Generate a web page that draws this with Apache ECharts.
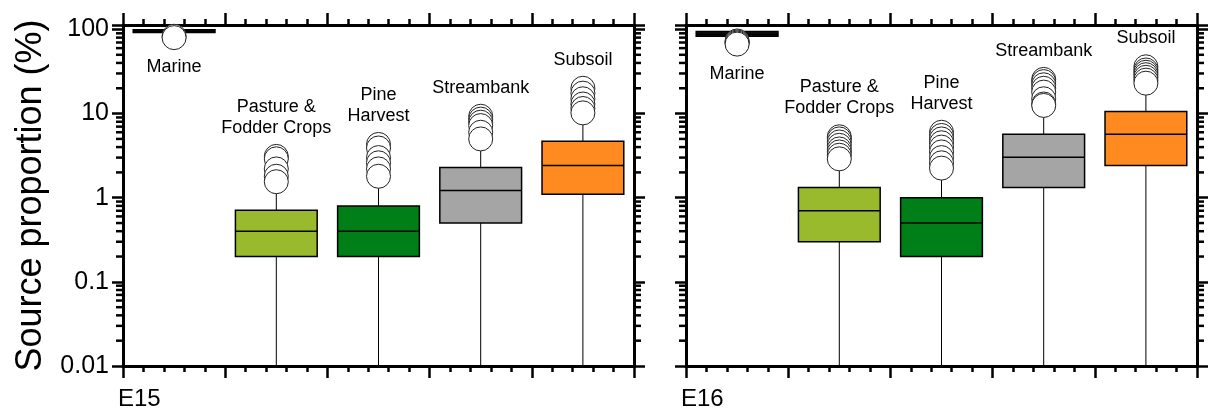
<!DOCTYPE html>
<html>
<head>
<meta charset="utf-8">
<script src="https://cdn.jsdelivr.net/npm/echarts@6/dist/echarts.min.js"></script>
<style>
  html, body { margin: 0; padding: 0; background: #fff; }
  #chart { width: 1208px; height: 410px; }
</style>
</head>
<body>
<div id="chart"></div>
<script>
// Sediment source groups and their slot on the x axis
const categories = ['Marine', 'Pasture &\nFodder Crops', 'Pine\nHarvest', 'Streambank', 'Subsoil'];
const categoryPositions = [0.5, 1.5, 2.5, 3.5, 4.5];
const panelNames = ['E15', 'E16'];
const yTickLabels = ['0.01', '0.1', '1', '10', '100'];

// Box statistics per source: [min, Q1, median, Q3, max] in %
const e15Stats = [
  [90, 92, 95, 99, 100],
  [0.01, 0.20, 0.40, 0.71, 1.5],
  [0.01, 0.20, 0.40, 0.80, 1.7],
  [0.01, 0.50, 1.22, 2.28, 4.8],
  [0.01, 1.10, 2.41, 4.7, 10]
];
const e15Outliers = [
  [83, 80],
  [3.1, 2.9, 2.2, 1.8, 1.55],
  [4.3, 3.9, 3.0, 2.6, 2.2, 1.8],
  [9.3, 8.6, 7.9, 7.2, 6.0, 5.0],
  [20, 17.5, 15, 13, 11.5, 10.2]
];
const e16Stats = [
  [80, 83, 88, 94.5, 96],
  [0.01, 0.30, 0.70, 1.32, 2.7],
  [0.01, 0.20, 0.50, 1.0, 2.2],
  [0.01, 1.32, 3.03, 5.7, 12.5],
  [0.01, 2.41, 5.7, 10.6, 22.5]
];
const e16Outliers = [
  [73, 71, 69, 67],
  [5.3, 5.0, 4.6, 4.2, 3.8, 3.5, 3.2, 2.9],
  [6.0, 5.5, 5.0, 4.5, 4.0, 3.5, 3.0, 2.6, 2.25],
  [25.5, 24, 22, 20, 18, 15, 13, 12.5],
  [36, 33, 31, 29, 27, 25, 23]
];

const sourceColors = ['#111111', '#99BA2C', '#007E17', '#A5A5A5', '#FF8A1F'];

const FONT = '"Liberation Sans", Arial, Helvetica, sans-serif';
const Y_MIN = 0.01, Y_MAX = 113;
const BOX_HALF = 0.4;       // half box width in x-axis units
const OUT_R = 12;           // outlier circle radius (px)
const MINOR_LEN = 7;
const AXIS_W = 3;

// log minor ticks at 2..9 within each decade of the axis range
const minorTickValues = [];
for (let e = -2; e <= 1; e++) {
  for (let m = 2; m <= 9; m++) minorTickValues.push(m * Math.pow(10, e));
}

function boxRows(stats, outliers) {
  return stats.map((s, i) => [
    categoryPositions[i], s[0], s[1], s[2], s[3], s[4], i,
    Math.max.apply(null, outliers[i]), Math.min.apply(null, outliers[i])
  ]);
}
function outlierPoints(outliers) {
  const pts = [];
  outliers.forEach((list, i) => list.forEach(v => pts.push([categoryPositions[i], v])));
  return pts;
}

function renderBox(params, api) {
  const x = api.value(0);
  const yOf = v => api.coord([x, v])[1];
  const cx = api.coord([x, 1])[0];
  const half = (api.coord([x + BOX_HALF, 1])[0] - api.coord([x - BOX_HALF, 1])[0]) / 2;
  const yMin = yOf(api.value(1)), yQ1 = yOf(api.value(2)), yMed = yOf(api.value(3));
  const yQ3 = yOf(api.value(4)), yMax = yOf(api.value(5));
  const color = sourceColors[api.value(6)];
  const yTopOut = yOf(api.value(7)), yLowOut = yOf(api.value(8));
  const text = categories[params.dataIndex];
  const nLines = text.split('\n').length;
  const lineH = 21;
  const cs = params.coordSys;
  const labelTop = yTopOut - OUT_R - 6 - nLines * lineH;
  const placeBelow = labelTop < cs.y;
  const children = [
    { type: 'line', shape: { x1: cx, y1: yMin, x2: cx, y2: yQ1 }, style: { stroke: '#000', lineWidth: 1 } },
    { type: 'line', shape: { x1: cx, y1: yQ3, x2: cx, y2: yMax }, style: { stroke: '#000', lineWidth: 1 } },
    { type: 'rect', shape: { x: cx - half, y: yQ3, width: 2 * half, height: yQ1 - yQ3 },
      style: { fill: color, stroke: '#000', lineWidth: 1.5 } },
    { type: 'line', shape: { x1: cx - half, y1: yMed, x2: cx + half, y2: yMed }, style: { stroke: '#000', lineWidth: 1.5 } },
    { type: 'text', z2: 10, style: {
        text: text, x: cx,
        y: placeBelow ? yLowOut + OUT_R + 7 : yTopOut - OUT_R - 6,
        align: 'center', verticalAlign: placeBelow ? 'top' : 'bottom',
        fontSize: 18, lineHeight: lineH, fontFamily: FONT, fill: '#000'
    } }
  ];
  return { type: 'group', children: children };
}

function renderMinorTick(params, api) {
  const cs = params.coordSys;
  const y = api.coord([0, api.value(1)])[1];
  const st = { stroke: '#000', lineWidth: 2.5 };
  return { type: 'group', children: [
    { type: 'line', shape: { x1: cs.x - MINOR_LEN, y1: y, x2: cs.x, y2: y }, style: st },
    { type: 'line', shape: { x1: cs.x + cs.width, y1: y, x2: cs.x + cs.width + MINOR_LEN, y2: y }, style: st }
  ] };
}

function yLabel(v) {
  const lg = Math.log10(v);
  const e = Math.round(lg);
  if (Math.abs(lg - e) > 1e-6) return '';
  return yTickLabels[e + 2] || '';
}

const grids = [
  { left: 123, top: 25, width: 511, height: 341 },
  { left: 686, top: 25, width: 511, height: 341 }
];

const xAxes = [], yAxes = [], series = [];
const panelData = [[e15Stats, e15Outliers], [e16Stats, e16Outliers]];

grids.forEach((g, gi) => {
  ['bottom', 'top'].forEach(pos => {
    xAxes.push({
      type: 'value', gridIndex: gi, position: pos, min: 0, max: 5, interval: 1,
      axisLine: { show: true, onZero: false, lineStyle: { color: '#000', width: AXIS_W } },
      axisTick: { show: true, inside: false, length: 12, lineStyle: { color: '#000', width: 2.5 } },
      minorTick: { show: true, splitNumber: 5, length: 6, lineStyle: { color: '#000', width: 2.5 } },
      axisLabel: { show: false },
      splitLine: { show: false }
    });
  });
  ['left', 'right'].forEach(pos => {
    const showLabels = gi === 0 && pos === 'left';
    yAxes.push({
      type: 'log', logBase: 10, gridIndex: gi, position: pos, min: Y_MIN, max: Y_MAX,
      name: showLabels ? 'Source proportion (%)' : '',
      nameLocation: 'middle', nameGap: 74,
      nameTextStyle: { fontSize: 36, color: '#000', fontFamily: FONT },
      axisLine: { show: true, onZero: false, lineStyle: { color: '#000', width: AXIS_W } },
      axisTick: { show: true, inside: false, length: 11, lineStyle: { color: '#000', width: 2.5 } },
      axisLabel: { show: showLabels, formatter: yLabel, fontSize: 25, color: '#000', fontFamily: FONT, margin: 14 },
      splitLine: { show: false }
    });
  });

  const [stats, outs] = panelData[gi];
  series.push({
    type: 'custom', name: panelNames[gi] + ' boxes', xAxisIndex: gi * 2, yAxisIndex: gi * 2,
    renderItem: renderBox, clip: false, silent: true, z: 2,
    encode: { x: 0, y: [1, 2, 3, 4, 5] },
    data: boxRows(stats, outs)
  });
  series.push({
    type: 'scatter', name: panelNames[gi] + ' outliers', xAxisIndex: gi * 2, yAxisIndex: gi * 2,
    symbol: 'circle', symbolSize: OUT_R * 2, silent: true, z: 3,
    itemStyle: { color: '#fff', borderColor: '#222', borderWidth: 1, opacity: 1 },
    data: outlierPoints(outs)
  });
  series.push({
    type: 'custom', name: panelNames[gi] + ' minor ticks', xAxisIndex: gi * 2, yAxisIndex: gi * 2,
    renderItem: renderMinorTick, clip: false, silent: true, z: 4,
    data: minorTickValues.map(v => [0, v])
  });
});

const chart = echarts.init(document.getElementById('chart'), null, { renderer: 'canvas' });
chart.setOption({
  animation: false,
  backgroundColor: '#fff',
  title: panelNames.map((t, i) => ({
    text: t, left: grids[i].left - 5, top: 387, padding: 0,
    textStyle: { fontSize: 24, fontWeight: 'normal', color: '#000', fontFamily: FONT }
  })),
  grid: grids,
  xAxis: xAxes,
  yAxis: yAxes,
  series: series
});
</script>
</body>
</html>
